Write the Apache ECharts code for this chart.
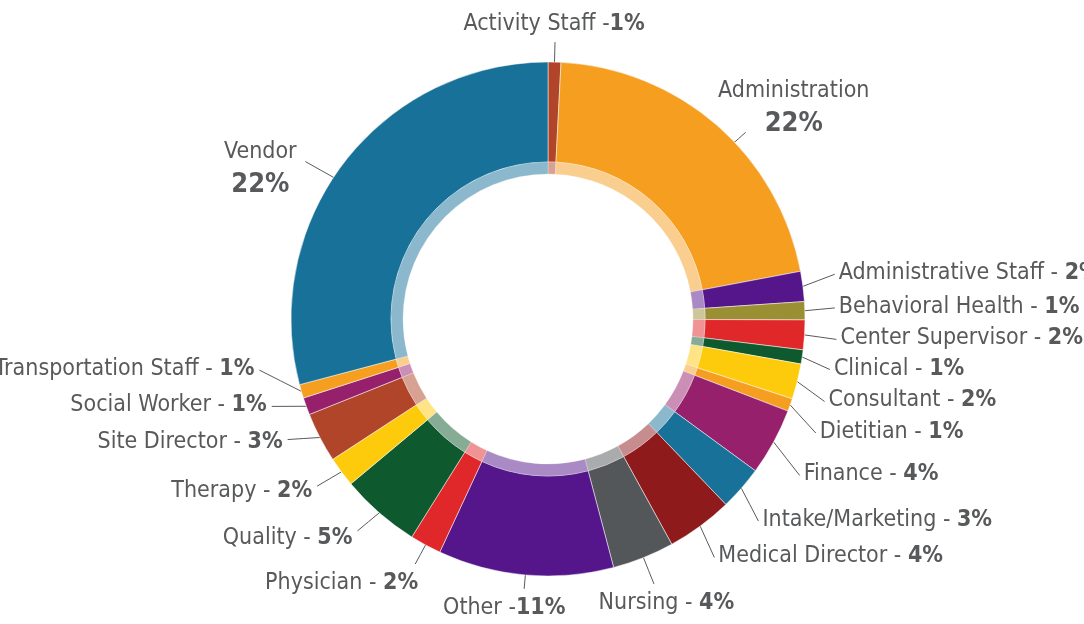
<!DOCTYPE html>
<html>
<head>
<meta charset="utf-8">
<script src="https://cdn.jsdelivr.net/npm/echarts@6/dist/echarts.min.js"></script>
<style>
  html, body { margin: 0; padding: 0; background: #fff; }
  #chart { width: 1084px; height: 624px; }
</style>
</head>
<body>
<div id="chart"></div>
<script>
// slice names, clockwise from 12 o'clock
const names = [
  "Activity Staff", "Administration", "Administrative Staff", "Behavioral Health",
  "Center Supervisor", "Clinical", "Consultant", "Dietitian", "Finance",
  "Intake/Marketing", "Medical Director", "Nursing", "Other", "Physician",
  "Quality", "Therapy", "Site Director", "Social Worker", "Transportation Staff", "Vendor"
];
// arc sizes (degrees)
const arcs = [2.9, 76.4, 6.8, 4.1, 6.7, 3.2, 8.0, 2.9, 15.2, 10.0,
  15.0, 14.0, 39.7, 7.1, 18.1, 6.8, 11.3, 3.9, 3.1, 104.8];
// percentages as printed in the labels
const pctLabels = ["1%", "22%", "2%", "1%", "2%", "1%", "2%", "1%", "4%", "3%",
  "4%", "4%", "11%", "2%", "5%", "2%", "3%", "1%", "1%", "22%"];
const colors = ["#b0452a", "#f59e20", "#54168a", "#9a9033", "#e0282b", "#0e5a2e",
  "#fdca0c", "#f59e20", "#97206c", "#177199", "#8f1a1c", "#53575a", "#54168a",
  "#e0282b", "#0e5a2e", "#fdca0c", "#b0452a", "#97206c", "#f59e20", "#177199"];

const FONT = "'DejaVu Sans Condensed', 'Liberation Sans Narrow', Roboto, sans-serif";
const CX = 548, CY = 319, R_IN = 157, R_OUT = 257;
const twoLine = ["Administration", "Vendor"];
const noSpace = ["Activity Staff", "Other"];

// nudges so the labels sit where the original put them
const tweak = {
  "Activity Staff": { align: "center", dx: -10, dy: -14, line: "up" },
  "Administration": { align: "center", dx: 52, dy: 1, line: "free", at: 46.5, end: [-48, 24] },
  "Administrative Staff": { dx: 3, dy: -10 },
  "Behavioral Health": { dx: 1, dy: -3 },
  "Center Supervisor": { dx: 3, dy: 2 },
  "Clinical": { dx: -1, dy: 8 },
  "Consultant": { dx: -1, dy: 13 },
  "Dietitian": { dx: -2, dy: 19 },
  "Finance": { dx: 0, dy: 21 },
  "Intake/Marketing": { dx: -6, dy: 16 },
  "Medical Director": { dx: -5, dy: 11 },
  "Nursing": { align: "center", dx: 5, dy: 23, line: "down" },
  "Other": { align: "center", dx: -10, dy: 9, line: "down" },
  "Physician": { dx: 13, dy: 17, line: "down" },
  "Quality": { dx: -2, dy: 7, ey: -8 },
  "Therapy": { dx: -1, dy: 5, ey: -6 },
  "Site Director": { dx: -7, dy: -7, ey: -3 },
  "Social Worker": { dx: -8, dy: -9 },
  "Transportation Staff": { dx: -15, dy: -29 },
  "Vendor": { align: "center", dx: -56, dy: 21, line: "free", at: 303.5, end: [45, -7] }
};

function placeLabel(p) {
  const t = tweak[names[p.dataIndex]] || {};
  const r = p.labelRect;
  const pts = p.labelLinePoints;
  let start = pts[0];
  const anchorX = p.align === "right" ? r.x + r.width : (p.align === "center" ? r.x + r.width / 2 : r.x);
  const x = anchorX + (t.dx || 0);
  const yMid = r.y + r.height / 2 + (t.dy || 0);
  const align = t.align || p.align;
  const left = align === "center" ? x - r.width / 2 : (align === "right" ? x - r.width : x);
  const top = yMid - r.height / 2;
  const ux = pts[1][0] - start[0], uy = pts[1][1] - start[1];
  let end;
  if (t.line === "down" || t.line === "up") {
    const ty = t.line === "down" ? top - 3 : top + r.height + 2;
    const k = (ty - start[1]) / uy;
    end = [start[0] + ux * k, ty];
  } else if (t.line === "free") {
    const a = t.at * Math.PI / 180;
    start = [CX + (R_OUT - 4) * Math.sin(a), CY - (R_OUT - 4) * Math.cos(a)];
    end = [left + r.width / 2 + t.end[0], yMid + t.end[1]];
  } else if (align === "left") {
    end = [left - 4, yMid + 1];
  } else {
    end = [left + r.width + 5, yMid + 1 + (t.ey || 0)];
  }
  const mid = [(start[0] + end[0]) / 2, (start[1] + end[1]) / 2];
  return { x: x, y: yMid, align: align, verticalAlign: "middle", labelLinePoints: [start, mid, end] };
}

const chart = echarts.init(document.getElementById("chart"));

const data = names.map((n, i) => ({ name: n, value: arcs[i], itemStyle: { color: colors[i] } }));

chart.setOption({
  animation: false,
  series: [
    {
      type: "pie",
      center: [CX, CY],
      radius: [R_IN, R_OUT],
      startAngle: 90,
      clockwise: true,
      avoidLabelOverlap: false,
      itemStyle: { borderColor: "#fff", borderWidth: 0.5 },
      label: {
        show: true,
        position: "outside",
        overflow: "none",
        fontFamily: FONT,
        fontSize: 23,
        color: "#58595b",
        lineHeight: 32,
        formatter: (p) => {
          const i = p.dataIndex;
          if (twoLine.includes(names[i])) return names[i] + "\n{big|" + pctLabels[i] + "}";
          if (noSpace.includes(names[i])) return names[i] + " -{b|" + pctLabels[i] + "}";
          return names[i] + " - {b|" + pctLabels[i] + "}";
        },
        rich: {
          b: { fontFamily: FONT, fontWeight: "bold", fontSize: 23, color: "#58595b" },
          big: { fontFamily: FONT, fontWeight: "bold", fontSize: 27, color: "#58595b", lineHeight: 34 }
        }
      },
      labelLine: {
        show: true,
        length: 24,
        length2: 4,
        lineStyle: { color: "#58595b", width: 1 }
      },
      labelLayout: placeLabel,
      data: data
    },
    {
      type: "pie",
      center: [CX, CY],
      radius: [145, R_IN],
      startAngle: 90,
      clockwise: true,
      silent: true,
      label: { show: false },
      labelLine: { show: false },
      itemStyle: { opacity: 0.5, borderColor: "#fff", borderWidth: 0.5 },
      data: data
    }
  ]
});
</script>
</body>
</html>
